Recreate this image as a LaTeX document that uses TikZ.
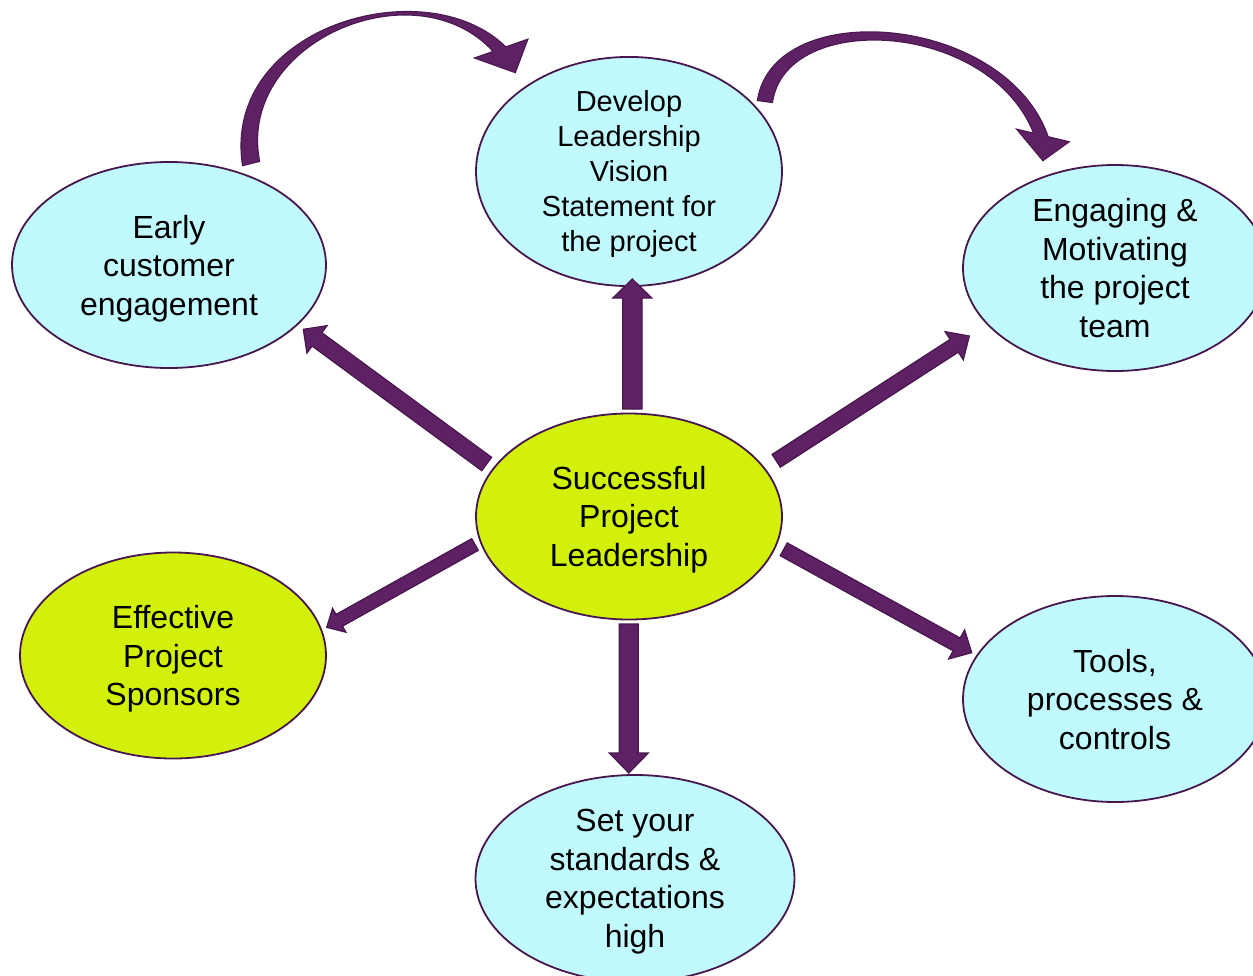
\documentclass[tikz,border=0pt]{standalone}
\usepackage{fontspec}
\setmainfont{Liberation Sans}
\usetikzlibrary{shapes.geometric,calc}
\definecolor{cyanfill}{RGB}{192,250,255}
\definecolor{limefill}{RGB}{210,240,10}
\definecolor{purplefill}{RGB}{94,33,99}
\definecolor{purpleline}{RGB}{72,22,78}
\newcommand\blkarrow[5]{%
  \coordinate (hb) at ($(#2)!#5!(#1)$);
  \filldraw[arrowbody] ($(#1)!#3!90:(#2)$) -- ($(hb)!#3!-90:(#1)$) -- ($(hb)!#4!-90:(#1)$) -- (#2)
    -- ($(hb)!#4!90:(#1)$) -- ($(hb)!#3!90:(#1)$) -- ($(#1)!#3!-90:(#2)$) -- cycle;}
\begin{document}
\begin{tikzpicture}[x=1pt,y=-1pt,
  bubble/.style={ellipse, draw=purpleline, line width=1.8pt, inner sep=0pt, align=center,
    minimum width=306pt, minimum height=206pt, font=\fontsize{32}{38.5}\selectfont},
  cyanbubble/.style={bubble, fill=cyanfill},
  limebubble/.style={bubble, fill=limefill},
  arrowbody/.style={fill=purplefill, draw=purpleline, line width=1.2pt, line join=miter},
  arrowedge/.style={draw=purpleline, line width=2.2pt, line join=miter},
  arrowfill/.style={fill=purplefill}]
\useasboundingbox (0,0) rectangle (1253,975);
\clip (0,0) rectangle (1253,975);

% nodes
\node[cyanbubble, minimum width=314pt, text depth=0pt] (early) at (169,265) {Early\\customer\\engagement};
\node[cyanbubble, font=\fontsize{29}{35}\selectfont, text depth=1pt] (vision) at (629,171.5) {Develop\\Leadership\\Vision\\Statement for\\the project};
\node[cyanbubble, minimum width=304pt, text depth=-5pt] (team) at (1115,268) {Engaging \&\\Motivating\\the project\\team};
\node[limebubble, text depth=0.5pt] (center) at (629,516.5) {Successful\\Project\\Leadership};
\node[limebubble, text depth=-1.3pt] (sponsors) at (173,655.5) {Effective\\Project\\Sponsors};
\node[cyanbubble, minimum width=304pt, text depth=-3pt] (tools) at (1115,699) {Tools,\\processes \&\\controls};
\node[cyanbubble, minimum width=319pt, minimum height=207pt, text depth=-1.3pt] (standards) at (635,878.5) {Set your\\standards \&\\expectations\\high};

% straight block arrows
\coordinate (upT) at (632.3,409);   \coordinate (upH) at (632.3,279);
\coordinate (dnT) at (628.8,624);   \coordinate (dnH) at (628.8,773);
\coordinate (ulT) at (486.7,464);   \coordinate (ulH) at (303.3,329.3);
\coordinate (urT) at (776.2,460.8); \coordinate (urH) at (969.3,336);
\coordinate (llT) at (475,544.5);   \coordinate (llH) at (326.7,627.3);
\coordinate (lrT) at (783.7,549.3); \coordinate (lrH) at (971.7,652.7);
\blkarrow{upT}{upH}{9.7pt}{19.5pt}{19pt}
\blkarrow{dnT}{dnH}{9.5pt}{19.5pt}{20pt}
\blkarrow{ulT}{ulH}{8.3pt}{17pt}{17pt}
\blkarrow{urT}{urH}{7.6pt}{16.8pt}{18pt}
\blkarrow{llT}{llH}{6.7pt}{13.7pt}{14.4pt}
\blkarrow{lrT}{lrH}{7.3pt}{16.6pt}{17.2pt}

% curved arrow 1: early -> vision
\coordinate (c1to) at (243,165); \coordinate (c1ti) at (259,161);
\coordinate (c1ho) at (509,51);  \coordinate (c1hi) at (497,55);
\coordinate (h1a) at (476,58); \coordinate (h1b) at (527,40); \coordinate (h1c) at (515,72);
% curved arrow 2: vision -> team
\coordinate (c2to) at (758,100); \coordinate (c2ti) at (772,102);
\coordinate (c2ho) at (1049,141); \coordinate (c2hi) at (1036,138);
\coordinate (h2a) at (1018,130); \coordinate (h2b) at (1068,142); \coordinate (h2c) at (1043,160);

\path[arrowedge] (c1to) .. controls (222,25) and (432,-33) .. (c1ho) -- (c1hi) .. controls (420,-37) and (236,40) .. (c1ti) -- cycle;
\path[arrowedge] (h1a) -- (h1b) -- (h1c) -- cycle;
\path[arrowedge] (c2to) .. controls (775,-5) and (1010,15) .. (c2ho) -- (c2hi) .. controls (995,20) and (786,8) .. (c2ti) -- cycle;
\path[arrowedge] (h2a) -- (h2b) -- (h2c) -- cycle;
\path[arrowfill] (c1to) .. controls (222,25) and (432,-33) .. (c1ho) -- (c1hi) .. controls (420,-37) and (236,40) .. (c1ti) -- cycle;
\path[arrowfill] (h1a) -- (h1b) -- (h1c) -- cycle;
\path[arrowfill] (c2to) .. controls (775,-5) and (1010,15) .. (c2ho) -- (c2hi) .. controls (995,20) and (786,8) .. (c2ti) -- cycle;
\path[arrowfill] (h2a) -- (h2b) -- (h2c) -- cycle;
\end{tikzpicture}
\end{document}
